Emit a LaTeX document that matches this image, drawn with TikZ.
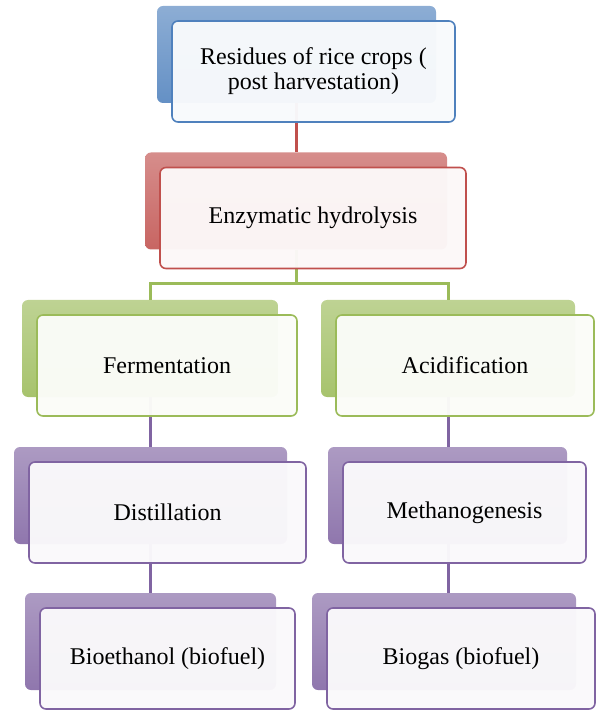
\documentclass[tikz,border=0pt]{standalone}
\usepackage{fontspec}
\setmainfont{Liberation Serif}
\usepackage{tikz}

\definecolor{stblue}{RGB}{79,129,189}
\definecolor{stred}{RGB}{192,80,77}
\definecolor{stgreen}{RGB}{155,187,89}
\definecolor{stpurple}{RGB}{128,100,162}

\begin{document}
\begin{tikzpicture}[x=0.5pt,y=-0.5pt]
	\useasboundingbox (0,0) rectangle (595,710);
	\tikzstyle{backbox}=[rectangle,rounded corners=3pt,inner sep=0pt,minimum height=48.5pt]
	\tikzstyle{frontbox}=[rectangle,rounded corners=3pt,inner sep=0pt,minimum height=50.5pt,line width=0.8pt,fill opacity=0.97,text opacity=1,align=center,font=\fontsize{12}{12.5}\selectfont]
	\tikzstyle{link}=[line width=1.5pt]
	% shadow boxes behind
	\foreach \n/\x/\y/\w/\c in {res/313.5/71.5/283/stblue,enz/313/218/306/stred,
		fer/167/365.5/260/stgreen,aci/465/365.5/258/stgreen,
		dis/167.5/512.5/277/stpurple,met/464.5/512.5/243/stpurple,
		bio/167.5/658.5/255/stpurple,gas/461/658.5/268/stpurple}
	{\pgfmathsetmacro{\bw}{0.5*\w-2}
		\node[backbox,top color=\c!65!white,bottom color=\c!88!white,minimum width=\bw pt] at (\x-17,\y-17) (b\n) {};}
	% connectors
	\draw[link,stred] (bres.south) -- (bres.south |- benz.north);
	\coordinate (fork) at ([yshift=-17pt]benz.south);
	\draw[link,stgreen] (benz.south) -- (fork);
	\draw[link,stgreen] (bfer.north) |- (fork) -| (baci.north);
	\draw[link,stpurple] (bfer.south) -- (bfer.south |- bdis.north);
	\draw[link,stpurple] (baci.south) -- (baci.south |- bmet.north);
	\draw[link,stpurple] (bfer.south |- bdis.south) -- (bfer.south |- bbio.north);
	\draw[link,stpurple] (baci.south |- bmet.south) -- (baci.south |- bgas.north);
	% text boxes
	\foreach \n/\x/\y/\w/\c/\t in {res/313.5/71.5/283/stblue/{Residues of rice crops (\\ post harvestation)},
		enz/313/218/306/stred/{Enzymatic hydrolysis},
		fer/167/365.5/260/stgreen/{Fermentation},aci/465/365.5/258/stgreen/{Acidification},
		dis/167.5/512.5/277/stpurple/{Distillation},met/464.5/512.5/243/stpurple/{Methanogenesis},
		bio/167.5/658.5/255/stpurple/{Bioethanol (biofuel)},gas/461/658.5/268/stpurple/{Biogas (biofuel)}}
	{\pgfmathsetmacro{\fw}{0.5*\w}
		\node[frontbox,draw=\c,fill=\c!4!white,minimum width=\fw pt] at (\x,\y) (\n) {\t};}
\end{tikzpicture}
\end{document}
